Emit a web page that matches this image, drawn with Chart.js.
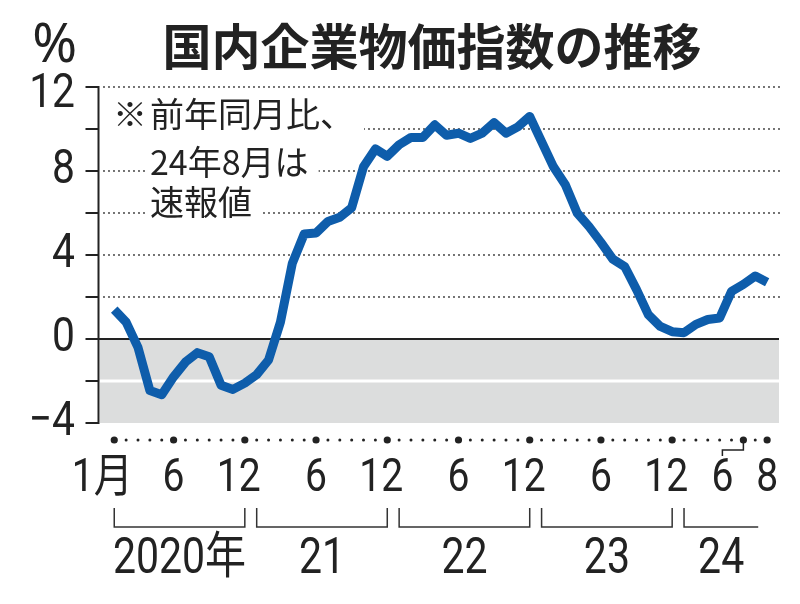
<!DOCTYPE html>
<html lang="ja">
<head>
<meta charset="utf-8">
<title>国内企業物価指数の推移</title>
<script src="https://cdn.jsdelivr.net/npm/chart.js@4.4.1/dist/chart.umd.min.js"></script>
<style>
  html, body { margin: 0; padding: 0; background: #fff; }
  #wrap { width: 800px; height: 604px; }
</style>
</head>
<body>
<div id="wrap"><canvas id="cgpi"></canvas></div>
<script>
// 前年同月比（%）、2020年1月～24年8月（24年8月は速報値）
const v2020 = [1.4, 0.8, -0.4, -2.45, -2.65, -1.8, -1.1, -0.65, -0.85, -2.2, -2.4, -2.1];
const v2021 = [-1.7, -1.0, 0.8, 3.6, 5.0, 5.05, 5.6, 5.8, 6.25, 8.2, 9.05, 8.7];
const v2022 = [9.25, 9.6, 9.6, 10.2, 9.7, 9.8, 9.55, 9.8, 10.3, 9.8, 10.1, 10.6];
const v2023 = [9.4, 8.2, 7.35, 6.0, 5.35, 4.6, 3.8, 3.45, 2.35, 1.15, 0.6, 0.35];
const v2024 = [0.3, 0.7, 0.93, 1.0, 2.27, 2.6, 3.0, 2.7];
const values = [].concat(v2020, v2021, v2022, v2023, v2024);

// x axis: month index (0 = 2020年1月)
const monthTicks = [0, 5, 11, 17, 23, 29, 35, 41, 47, 53, 55];
const monthTickLabels = ['1月', '6', '12', '6', '12', '6', '12', '6', '12', '6', '8'];
const yearLabels = ['2020年', '21', '22', '23', '24'];
const yearFirst = [0, 12, 24, 36, 48];
const yearLast = [11, 23, 35, 47, 54.25];

// y axis
const yTicks = [12, 8, 4, 0, -4];
const yTickLabels = ['12', '8', '4', '0', '−4'];
const gridValues = [12, 10, 8, 6, 4, 2];
const axisTicks = [12, 10, 8, 6, 4, 2, 0, -2, -4];

const noteLines = ['前年同月比、', '24年8月は', '速報値'];

const INK = '#222';

function narrowText(ctx, text, x, y, size, sx, align) {
  ctx.save();
  ctx.font = size + 'px Roboto, "Noto Sans CJK JP", sans-serif';
  ctx.textBaseline = 'middle';
  ctx.textAlign = align || 'center';
  ctx.fillStyle = INK;
  ctx.translate(x, y);
  ctx.scale(sx, 1);
  ctx.fillText(text, 0, 0);
  ctx.restore();
}

function dotRow(ctx, x1, x2, y) {
  ctx.fillStyle = '#333';
  for (let x = x1; x <= x2; x += 5) {
    ctx.beginPath();
    ctx.arc(x, y, 0.9, 0, Math.PI * 2);
    ctx.fill();
  }
}

const backdrop = {
  id: 'backdrop',
  beforeDatasetsDraw(chart) {
    const { ctx, chartArea: a, scales: { x, y } } = chart;
    const y0 = y.getPixelForValue(0);
    ctx.save();

    // grey band below zero
    ctx.fillStyle = '#dcdddd';
    ctx.fillRect(a.left, y0, a.right - a.left, y.getPixelForValue(-4) - y0);
    ctx.fillStyle = '#fff';
    ctx.fillRect(a.left, y.getPixelForValue(-2) - 1.5, a.right - a.left, 3);

    // dotted grid
    gridValues.forEach(v => dotRow(ctx, a.left + 4, a.right, y.getPixelForValue(v)));

    // note with white backing
    ctx.font = '34px "Noto Sans CJK JP", sans-serif';
    ctx.textBaseline = 'middle';
    const noteY = [114, 162, 202];
    noteLines.forEach((t, i) => {
      const w = ctx.measureText(t).width;
      const left = i === 0 ? a.left + 2 : 146;
      ctx.fillStyle = '#fff';
      ctx.fillRect(left, noteY[i] - 20, 150 + w + 10 - left, 40);
      ctx.fillStyle = INK;
      ctx.textAlign = 'left';
      ctx.fillText(t, 150, noteY[i]);
    });
    ctx.fillText('※', 113, noteY[0]);

    // zero line and y axis
    const ax = a.left - 1.5;
    ctx.strokeStyle = INK;
    ctx.lineWidth = 2;
    ctx.beginPath();
    ctx.moveTo(ax, y0);
    ctx.lineTo(a.right, y0);
    ctx.moveTo(ax, y.getPixelForValue(12) - 1);
    ctx.lineTo(ax, y.getPixelForValue(-4) + 1);
    axisTicks.forEach(v => {
      const py = y.getPixelForValue(v);
      ctx.moveTo(ax - 13, py);
      ctx.lineTo(ax + 1, py);
    });
    ctx.stroke();
    ctx.restore();
  },
  afterDraw(chart) {
    const { ctx, scales: { x, y } } = chart;
    ctx.save();

    // title
    ctx.fillStyle = INK;
    ctx.font = 'bold 49px "Noto Sans CJK JP", sans-serif';
    ctx.textAlign = 'center';
    ctx.textBaseline = 'middle';
    ctx.fillText('国内企業物価指数の推移', 432, 46);

    // unit
    ctx.font = '54px "Noto Sans", sans-serif';
    ctx.textAlign = 'right';
    ctx.fillText('%', 77, 47);

    // y labels
    yTicks.forEach((v, i) => {
      const shift = v === 12 ? 8 : 0;
      narrowText(ctx, yTickLabels[i], 75, y.getPixelForValue(v) + shift, 48, 0.85, 'right');
    });

    // month dots
    const dotY = 440;
    ctx.fillStyle = INK;
    values.forEach((_, i) => {
      const big = monthTicks.includes(i);
      ctx.beginPath();
      ctx.arc(x.getPixelForValue(i), dotY, big ? 3.6 : 1.5, 0, Math.PI * 2);
      ctx.fill();
    });

    // month labels
    monthTicks.forEach((m, i) => {
      let px = x.getPixelForValue(m);
      const t = monthTickLabels[i];
      if (t === '1月') px -= 12;
      else if (t === '12') px -= 6;
      else if (i === monthTicks.length - 2) {
        // 24年6月: shifted left with a leader
        ctx.strokeStyle = INK;
        ctx.lineWidth = 1.5;
        ctx.beginPath();
        ctx.moveTo(px, dotY);
        ctx.lineTo(px, 450);
        ctx.lineTo(px - 21, 450);
        ctx.lineTo(px - 21, 456);
        ctx.stroke();
        px -= 21;
      }
      narrowText(ctx, t, px, 479, 46, 0.85);
    });

    // year brackets
    ctx.strokeStyle = '#333';
    ctx.lineWidth = 1.5;
    yearLabels.forEach((lab, i) => {
      const x1 = x.getPixelForValue(yearFirst[i]);
      const x2 = x.getPixelForValue(yearLast[i]);
      const open = i === yearLabels.length - 1;
      ctx.beginPath();
      ctx.moveTo(x1, 508);
      ctx.lineTo(x1, 527);
      ctx.lineTo(x2, 527);
      if (!open) ctx.lineTo(x2, 508);
      ctx.stroke();
      narrowText(ctx, lab, (x1 + x2) / 2, 560, 50, 0.82);
    });
    ctx.restore();
  }
};

new Chart(document.getElementById('cgpi'), {
  type: 'line',
  data: {
    datasets: [{
      data: values.map((v, i) => ({ x: i, y: v })),
      borderColor: '#0e5dab',
      borderWidth: 9,
      borderJoinStyle: 'round',
      borderCapStyle: 'butt',
      pointRadius: 0,
      tension: 0,
      fill: false
    }]
  },
  options: {
    responsive: true,
    maintainAspectRatio: false,
    animation: false,
    layout: { padding: { left: 100, right: 21, top: 87, bottom: 181 } },
    scales: {
      x: { type: 'linear', min: -1.2, max: 56, display: false },
      y: { min: -4, max: 12, display: false }
    },
    plugins: { legend: { display: false }, tooltip: { enabled: false } },
    clip: false
  },
  plugins: [backdrop]
});
</script>
</body>
</html>
